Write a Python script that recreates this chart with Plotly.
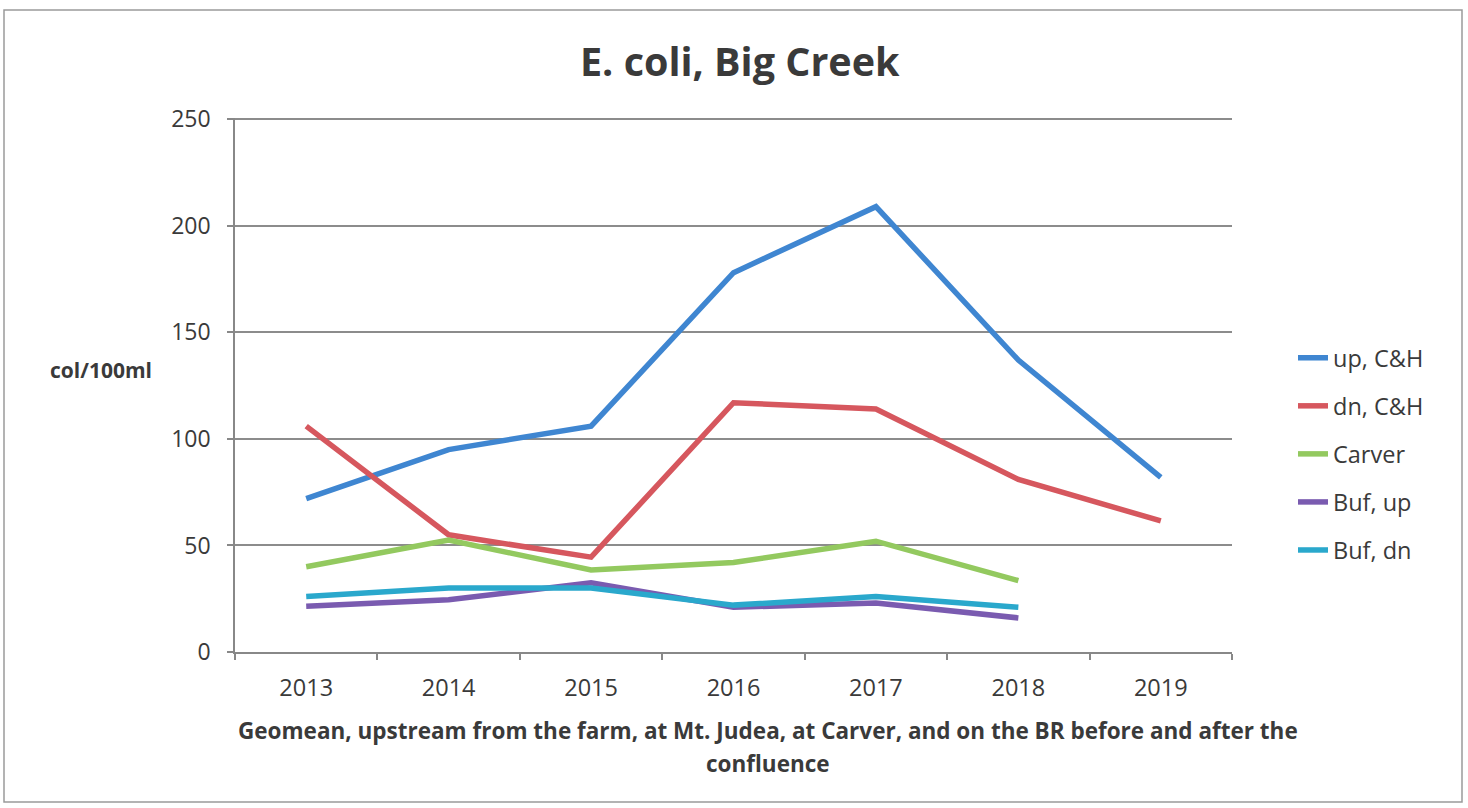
import plotly.graph_objects as go

years = ["2013", "2014", "2015", "2016", "2017", "2018", "2019"]
up_ch = [72, 95, 106, 178, 209, 137, 82]
dn_ch = [106, 55, 44.5, 117, 114, 81, 61.5]
carver = [40, 52.5, 38.5, 42, 52, 33.5]
buf_up = [21.5, 24.5, 32.5, 21, 23, 16]
buf_dn = [26, 30, 30, 22, 26, 21]

series = [
    ("up, C&H", up_ch, "#3f86d1"),
    ("dn, C&H", dn_ch, "#d6575e"),
    ("Carver", carver, "#93c95f"),
    ("Buf, up", buf_up, "#7a5bb0"),
    ("Buf, dn", buf_dn, "#2aa8cc"),
]

FONT = "Open Sans"
TXT = "#3a3a3a"

fig = go.Figure()
for name, vals, col in series:
    fig.add_trace(go.Scatter(
        x=years[:len(vals)], y=vals, name=name, mode="lines",
        line=dict(color=col, width=5.5), legendgroup=name,
    ))

W, H = 1468, 808
L, R, T, B = 235, 1232, 118, 652
pw, ph = R - L, B - T

def px(x):
    return (x - L) / pw

def py(y):
    return (B - y) / ph

fig.update_layout(
    width=W, height=H,
    margin=dict(l=L, r=W - R, t=T, b=H - B),
    paper_bgcolor="white", plot_bgcolor="white",
    font=dict(family=FONT, color=TXT, size=21),
    showlegend=True,
    legend=dict(
        x=px(1293), y=py(336), xanchor="left", yanchor="top",
        font=dict(size=23.5, color=TXT), traceorder="grouped",
        tracegroupgap=14.5, bgcolor="rgba(0,0,0,0)",
    ),
    xaxis=dict(
        type="category", categoryorder="array", categoryarray=years,
        range=[-0.5, 6.5], tickson="boundaries", ticks="outside",
        ticklen=6, tickcolor="#888", tickwidth=1.5,
        showline=True, linecolor="#888", linewidth=1.5,
        showgrid=False, tickfont=dict(size=23.5, color=TXT),
        ticklabelstandoff=14, fixedrange=True,
    ),
    yaxis=dict(
        range=[0, 250.6], tickvals=[0, 50, 100, 150, 200, 250],
        showgrid=True, gridcolor="#8c8c8c", gridwidth=1.5,
        showline=True, linecolor="#888", linewidth=1.5,
        ticks="outside", ticklen=6, tickcolor="#888", tickwidth=1.5,
        tickfont=dict(size=23, color=TXT), ticklabelstandoff=12,
        zeroline=False, fixedrange=True,
    ),
    annotations=[
        dict(text="<b>E. coli, Big Creek</b>", xref="paper", yref="paper",
             x=px(740), y=py(61), xanchor="center", yanchor="middle",
             showarrow=False, font=dict(size=39.5, color=TXT)),
        dict(text="<b>col/100ml</b>", xref="paper", yref="paper",
             x=px(101), y=py(370), xanchor="center", yanchor="middle",
             showarrow=False, font=dict(size=21, color=TXT)),
        dict(text="<b>Geomean, upstream from the farm, at Mt. Judea, at Carver, and on the BR before and after the</b>",
             xref="paper", yref="paper", x=px(768), y=py(730),
             xanchor="center", yanchor="middle", showarrow=False,
             font=dict(size=22.5, color=TXT)),
        dict(text="<b>confluence</b>",
             xref="paper", yref="paper", x=px(768), y=py(763),
             xanchor="center", yanchor="middle", showarrow=False,
             font=dict(size=22.5, color=TXT)),
    ],
    shapes=[
        dict(type="rect", xref="paper", yref="paper",
             x0=px(4), x1=px(1462), y0=py(802), y1=py(10),
             line=dict(color="#9a9a9a", width=1.5), fillcolor="rgba(0,0,0,0)", layer="below"),
    ],
)

fig.write_html("out.html")
